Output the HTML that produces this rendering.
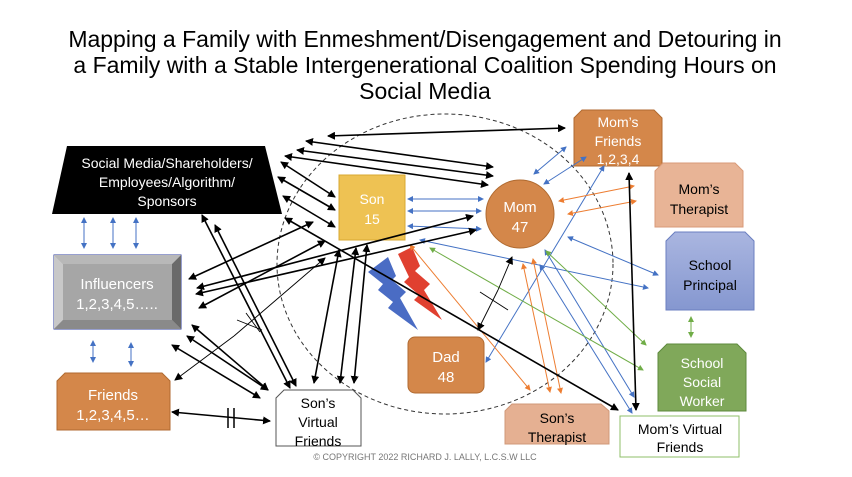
<!DOCTYPE html>
<html><head><meta charset="utf-8"><style>
body{margin:0;background:#fff;width:852px;height:472px;overflow:hidden;font-family:"Liberation Sans",sans-serif}
</style></head><body>
<svg width="852" height="472" viewBox="0 0 852 472" xmlns="http://www.w3.org/2000/svg" font-family="Liberation Sans, sans-serif">
<defs>
<marker id="k" markerWidth="8" markerHeight="8" refX="7" refY="4" orient="auto-start-reverse" markerUnits="userSpaceOnUse"><path d="M0,0 L8,4 L0,8z" fill="#000"/></marker>
<marker id="b" markerWidth="6" markerHeight="6" refX="5" refY="3" orient="auto-start-reverse" markerUnits="userSpaceOnUse"><path d="M0,0 L6,3 L0,6z" fill="#4472c4"/></marker>
<marker id="o" markerWidth="6" markerHeight="6" refX="5" refY="3" orient="auto-start-reverse" markerUnits="userSpaceOnUse"><path d="M0,0 L6,3 L0,6z" fill="#ed7d31"/></marker>
<marker id="g" markerWidth="6" markerHeight="6" refX="5" refY="3" orient="auto-start-reverse" markerUnits="userSpaceOnUse"><path d="M0,0 L6,3 L0,6z" fill="#70ad47"/></marker>
<linearGradient id="pg" x1="0" y1="0" x2="0" y2="1"><stop offset="0" stop-color="#aab6e0"/><stop offset="1" stop-color="#8597d0"/></linearGradient>
</defs>
<g font-size="23" text-anchor="middle" fill="#000">
<text x="425" y="47">Mapping a Family with Enmeshment/Disengagement  and Detouring in</text>
<text x="425" y="73">a Family with a Stable Intergenerational Coalition Spending Hours on</text>
<text x="425" y="99">Social Media</text>
</g>
<ellipse cx="445" cy="264" rx="168" ry="150" fill="none" stroke="#333" stroke-dasharray="4,3" stroke-width="1"/>
<polygon points="67,146 265,146 282,214 52,214" fill="#000"/>
<g font-size="14" fill="#fff" text-anchor="middle"><text x="167" y="168">Social Media/Shareholders/</text><text x="167" y="187">Employees/Algorithm/</text><text x="167" y="206">Sponsors</text></g>
<rect x="54" y="255" width="127" height="74" fill="#a6a6a6" stroke="#2f3f9f"/>
<polygon points="54,255 63,264 63,320 54,329" fill="#c8c8c8"/><polygon points="181,255 172,264 172,320 181,329" fill="#6a6a6a"/>
<polygon points="54,255 181,255 172,264 63,264" fill="#b8b8b8"/><polygon points="54,329 181,329 172,320 63,320" fill="#8a8a8a"/>
<rect x="63" y="264" width="109" height="56" fill="#a6a6a6"/>
<g font-size="15" fill="#fff" text-anchor="middle"><text x="117" y="289">Influencers</text><text x="117" y="309">1,2,3,4,5…..</text></g>
<polygon points="65,373 162,373 170,381 170,430 57,430 57,381" fill="#d4874a" stroke="#b06a30"/>
<g font-size="15" fill="#fff" text-anchor="middle"><text x="113" y="400">Friends</text><text x="113" y="420">1,2,3,4,5…</text></g>
<polygon points="284,390 353,390 361,398 361,446 276,446 276,398" fill="#fff" stroke="#555"/>
<g font-size="14" fill="#000" text-anchor="middle"><text x="318" y="408">Son’s</text><text x="318" y="427">Virtual</text><text x="318" y="446">Friends</text></g>
<rect x="339" y="175" width="66" height="65" fill="#eec253" stroke="#d8a830"/>
<g font-size="14" fill="#fff" text-anchor="middle"><text x="372" y="204">Son</text><text x="372" y="224">15</text></g>
<circle cx="520" cy="214" r="34" fill="#d4874a" stroke="#b06a30"/>
<g font-size="15" fill="#fff" text-anchor="middle"><text x="520" y="212">Mom</text><text x="520" y="232">47</text></g>
<rect x="408" y="337" width="76" height="56" rx="7" fill="#d4874a" stroke="#b06a30"/>
<g font-size="15" fill="#fff" text-anchor="middle"><text x="446" y="362">Dad</text><text x="446" y="382">48</text></g>
<polygon points="582,110 654,110 662,118 662,166 574,166 574,118" fill="#d4874a" stroke="#b06a30"/>
<g font-size="14" fill="#fff" text-anchor="middle"><text x="618" y="127">Mom’s</text><text x="618" y="146">Friends</text><text x="618" y="164">1,2,3,4</text></g>
<polygon points="663,163 735,163 743,171 743,227 655,227 655,171" fill="#e8b496" stroke="#d89a78"/>
<g font-size="14" fill="#000" text-anchor="middle"><text x="699" y="194">Mom’s</text><text x="699" y="214">Therapist</text></g>
<polygon points="675,232 745,232 754,241 754,310 666,310 666,241" fill="url(#pg)" stroke="#6b7fc0"/>
<g font-size="14" fill="#000" text-anchor="middle"><text x="710" y="270">School</text><text x="710" y="290">Principal</text></g>
<polygon points="667,344 737,344 746,353 746,411 658,411 658,353" fill="#80a85a" stroke="#5e8a3c"/>
<g font-size="14" fill="#fff" text-anchor="middle"><text x="702" y="368">School</text><text x="702" y="387">Social</text><text x="702" y="406">Worker</text></g>
<polygon points="512,404 601,404 609,411 609,444 505,444 505,411" fill="#e5b092" stroke="#d09878"/>
<g font-size="14" fill="#000" text-anchor="middle"><text x="557" y="423">Son’s</text><text x="557" y="442">Therapist</text></g>
<rect x="620" y="416" width="119" height="41" fill="#fff" stroke="#8fbf6a"/>
<g font-size="14" fill="#000" text-anchor="middle"><text x="680" y="434">Mom’s Virtual</text><text x="680" y="452">Friends</text></g>
<polygon points="368,272 388,257 396,276 392,280 406,292 400,298 418,330 388,308 393,302 378,290 383,284" fill="#4a6cc4"/>
<polygon points="398,254 412,247 420,266 415,271 430,284 424,290 442,320 414,300 419,295 404,282 409,277" fill="#e04030"/>
<g stroke="#4472c4" stroke-width="1" fill="none" marker-start="url(#b)" marker-end="url(#b)">
<line x1="84" y1="218" x2="84" y2="248"/><line x1="113" y1="218" x2="113" y2="248"/><line x1="136" y1="218" x2="136" y2="248"/>
<line x1="93" y1="341" x2="93" y2="362"/><line x1="131" y1="343" x2="131" y2="366"/>
<line x1="408" y1="199" x2="483" y2="199"/><line x1="408" y1="211" x2="481" y2="211"/><line x1="408" y1="226" x2="481" y2="229"/>
<line x1="534" y1="174" x2="566" y2="147"/><line x1="544" y1="184" x2="586" y2="157"/>
<line x1="486" y1="362" x2="604" y2="166"/>
<line x1="568" y1="237" x2="658" y2="275"/><line x1="420" y1="240" x2="648" y2="288"/>
<line x1="540" y1="265" x2="632" y2="413"/><line x1="545" y1="250" x2="634" y2="397"/>
</g>
<g stroke="#ed7d31" stroke-width="1" fill="none" marker-start="url(#o)" marker-end="url(#o)">
<line x1="559" y1="201" x2="634" y2="186"/><line x1="568" y1="214" x2="636" y2="201"/>
<line x1="523" y1="264" x2="550" y2="392"/><line x1="533" y1="259" x2="561" y2="393"/>
<line x1="410" y1="245" x2="530" y2="390"/>
</g>
<g stroke="#70ad47" stroke-width="1" fill="none" marker-start="url(#g)" marker-end="url(#g)">
<line x1="430" y1="248" x2="643" y2="370"/><line x1="546" y1="251" x2="646" y2="345"/>
<line x1="691" y1="317" x2="691" y2="337"/>
</g>
<g stroke="#000" stroke-width="1.6" fill="none" marker-start="url(#k)" marker-end="url(#k)">
<line x1="328" y1="136" x2="565" y2="128"/>
<line x1="306" y1="141" x2="493" y2="167"/><line x1="297" y1="150" x2="493" y2="176"/><line x1="285" y1="156" x2="488" y2="185"/>
<line x1="281" y1="162" x2="335" y2="197"/><line x1="278" y1="177" x2="335" y2="210"/><line x1="283" y1="196" x2="335" y2="227"/>
<line x1="189" y1="279" x2="313" y2="222"/><line x1="197" y1="288" x2="473" y2="216"/><line x1="196" y1="294" x2="476" y2="230"/><line x1="199" y1="308" x2="325" y2="241"/>
<line x1="202" y1="215" x2="290" y2="388"/><line x1="215" y1="225" x2="296" y2="386"/>
<line x1="192" y1="325" x2="268" y2="390"/><line x1="187" y1="336" x2="268" y2="390"/><line x1="172" y1="345" x2="260" y2="398"/>
<line x1="339" y1="250" x2="314" y2="383"/><line x1="356" y1="248" x2="340" y2="383"/><line x1="367" y1="245" x2="354" y2="383"/>
<line x1="172" y1="412" x2="270" y2="421"/>
<line x1="629" y1="173" x2="636" y2="410"/>
<line x1="285" y1="218" x2="618" y2="410"/>
</g>
<g stroke="#000" stroke-width="0.9" fill="none">
<line x1="175" y1="380" x2="234" y2="336" marker-start="url(#k)"/><line x1="234" y1="336" x2="325" y2="258" marker-end="url(#k)"/>
<line x1="237" y1="320" x2="262" y2="330"/><line x1="246" y1="313" x2="260" y2="332"/>
<line x1="478" y1="330" x2="498" y2="290" marker-start="url(#k)"/><line x1="498" y1="290" x2="512" y2="257" marker-end="url(#k)"/>
<line x1="480" y1="292" x2="508" y2="310"/>
</g>
<g stroke="#000" stroke-width="1.5"><line x1="228" y1="408" x2="228" y2="428"/><line x1="234" y1="408" x2="234" y2="428"/></g>
<text x="425" y="460" font-size="9" fill="#777" text-anchor="middle">© COPYRIGHT 2022 RICHARD J. LALLY, L.C.S.W LLC</text>
</svg>
</body></html>
